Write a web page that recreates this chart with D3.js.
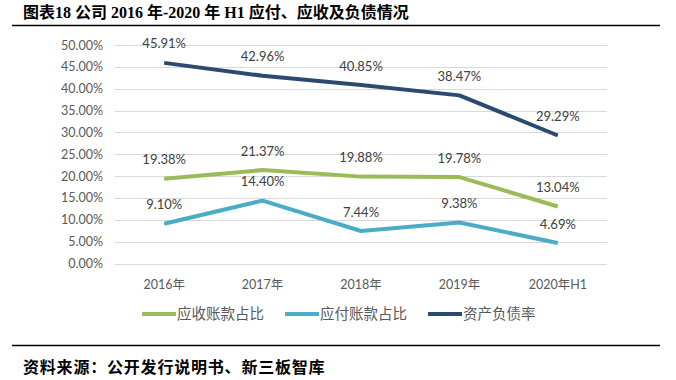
<!DOCTYPE html>
<html><head><meta charset="utf-8">
<script src="https://cdn.jsdelivr.net/npm/d3@7"></script>
<style>body{margin:0;background:#fff}svg{display:block}</style>
</head><body>
<script>
const categories = ["2016年","2017年","2018年","2019年","2020年H1"];
const receivable = [19.38, 21.37, 19.88, 19.78, 13.04];
const payable = [9.10, 14.40, 7.44, 9.38, 4.69];
const debtRatio = [45.91, 42.96, 40.85, 38.47, 29.29];
const yTicks = [0,5,10,15,20,25,30,35,40,45,50];
const seriesNames = ["应收账款占比","应付账款占比","资产负债率"];
const colors = ["#9BBB59","#4BACC6","#2B4A72"];

const W=676,H=380;
const svg=d3.select("body").append("svg").attr("width",W).attr("height",H);
const chartFont='Lato, "Noto Sans CJK SC", sans-serif';
const headFont='"Liberation Serif","Noto Sans CJK SC",serif';

// title
svg.append("text").attr("x",23).attr("y",18)
  .attr("font-family",headFont).attr("font-weight","bold")
  .attr("font-size",16).attr("fill","#000").text("图表18 公司 2016 年-2020 年 H1 应付、应收及负债情况");
svg.append("line").attr("x1",12).attr("x2",660).attr("y1",25.5).attr("y2",25.5).attr("stroke","#000").attr("stroke-width",1.5);
svg.append("line").attr("x1",12).attr("x2",660).attr("y1",345.5).attr("y2",345.5).attr("stroke","#000").attr("stroke-width",1.5);
svg.append("text").attr("x",23).attr("y",373)
  .attr("font-family",headFont).attr("font-weight","bold")
  .attr("font-size",16).attr("letter-spacing",0.8).attr("fill","#000").text("资料来源：公开发行说明书、新三板智库");

const x=d3.scaleBand().domain(categories).range([115,607]);
const y=d3.scaleLinear().domain([0,50]).range([263.5,45]);

// grid
svg.append("g").selectAll("line").data(yTicks).join("line")
  .attr("x1",115).attr("x2",607).attr("y1",d=>Math.round(y(d))+0.5).attr("y2",d=>Math.round(y(d))+0.5)
  .attr("stroke","#D9D9D9").attr("stroke-width",1);

const yAxis=svg.append("g").attr("transform","translate(103,0)")
  .call(d3.axisLeft(y).tickValues(yTicks).tickSize(0).tickFormat(d=>d.toFixed(2)+"%"));
yAxis.select(".domain").remove();
yAxis.selectAll("text").attr("font-family",chartFont).attr("font-size",12.5).attr("fill","#595959").attr("x",0);

const xAxis=svg.append("g").attr("transform","translate(0,277)")
  .call(d3.axisBottom(x).tickSize(0));
xAxis.select(".domain").remove();
xAxis.selectAll("text").attr("font-family",chartFont).attr("font-size",12.5).attr("fill","#595959");

const allSeries=[receivable,payable,debtRatio];
const line=d3.line().x((d,i)=>x(categories[i])+x.bandwidth()/2).y(d=>y(d));
allSeries.forEach((s,k)=>{
  svg.append("path").datum(s).attr("d",line).attr("fill","none")
    .attr("stroke",colors[k]).attr("stroke-width",4).attr("stroke-linejoin","round");
  svg.append("g").selectAll("text").data(s).join("text")
    .attr("x",(d,i)=>x(categories[i])+x.bandwidth()/2).attr("y",d=>y(d)-19)
    .attr("dy","0.35em").attr("text-anchor","middle")
    .attr("font-family",chartFont).attr("font-size",13).attr("fill","#404040")
    .text(d=>d.toFixed(2)+"%");
});

// legend
const legX=[142,285,428];
seriesNames.forEach((n,k)=>{
  svg.append("line").attr("x1",legX[k]).attr("x2",legX[k]+34).attr("y1",314).attr("y2",314)
    .attr("stroke",colors[k]).attr("stroke-width",4);
  svg.append("text").attr("x",legX[k]+35).attr("y",314).attr("dy","0.35em")
    .attr("font-family",chartFont).attr("font-size",14.5).attr("fill","#595959").text(n);
});
</script>
</body></html>
